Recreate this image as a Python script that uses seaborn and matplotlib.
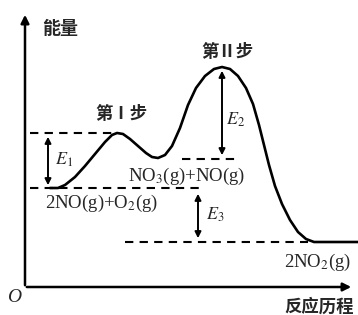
import matplotlib
matplotlib.use("Agg")
import seaborn as sns
from matplotlib import pyplot as plt

# reaction path (x = reaction progress, energy = height)
path_x = [50, 58, 65, 75, 85, 95, 105, 112, 117, 123, 130, 138, 146, 152, 158,
          165, 172, 180, 188, 196, 205, 214, 222, 230, 238, 246, 253, 259, 264,
          269, 275, 282, 290, 298, 306, 314, 358]
path_energy = [127, 127, 130, 138, 149, 161, 173, 180, 182, 181, 176, 169, 162,
               158, 157, 160, 169, 187, 210, 227, 239, 246, 248, 246, 239, 227,
               211, 190, 170, 150, 129, 111, 95, 83, 76, 73, 73]

# energy levels
e_reactant = 127
e_ts1 = 182
e_intermediate = 156
e_ts2 = 248
e_product = 73

species = ["2NO(g)+O$_2$(g)", "NO$_3$(g)+NO(g)", "2NO$_2$(g)"]
step_labels = ["第Ⅰ步", "第Ⅱ步"]
energy_labels = ["$E_1$", "$E_2$", "$E_3$"]

sns.set_style("white")
plt.rcParams["font.family"] = ["Liberation Serif", "Noto Sans CJK SC"]
plt.rcParams["mathtext.fontset"] = "stix"

fig = plt.figure(figsize=(3.58, 3.15), dpi=100)
ax = fig.add_axes([0, 0, 1, 1])
ax.set_xlim(0, 358)
ax.set_ylim(0, 315)
ax.axis("off")

sns.lineplot(x=path_x, y=path_energy, sort=False, color="black", lw=1.9, ax=ax)

# axes with arrows
axis_y = 28
ax.annotate("", xy=(25, 303), xytext=(25, axis_y - 1),
            arrowprops=dict(arrowstyle="-|>", color="black", lw=1.8, mutation_scale=12))
ax.annotate("", xy=(354, axis_y), xytext=(24, axis_y),
            arrowprops=dict(arrowstyle="-|>", color="black", lw=1.8, mutation_scale=12))

dash = dict(color="black", lw=1.5, ls=(0, (4, 3)))
ax.plot([30, 112], [e_ts1, e_ts1], **dash)
ax.plot([30, 204], [e_reactant, e_reactant], **dash)
ax.plot([182, 236], [e_intermediate, e_intermediate], **dash)
ax.plot([125, 308], [e_product, e_product], **dash)

arrow = dict(arrowstyle="<|-|>", color="black", lw=1.4, mutation_scale=9)
ax.annotate("", xy=(48, e_ts1 - 1), xytext=(48, e_reactant), arrowprops=arrow)
ax.annotate("", xy=(222, e_ts2 - 1), xytext=(222, e_intermediate + 1), arrowprops=arrow)
ax.annotate("", xy=(198, e_reactant - 3), xytext=(198, e_product + 1), arrowprops=arrow)

ax.text(55, 155, energy_labels[0], fontsize=13, ha="left", va="center")
ax.text(226, 195, energy_labels[1], fontsize=13, ha="left", va="center")
ax.text(206, 100, energy_labels[2], fontsize=13, ha="left", va="center")

ax.text(45, 112, species[0], fontsize=13.5, ha="left", va="center")
ax.text(187, 139, species[1], fontsize=13.5, ha="center", va="center")
ax.text(318, 53, species[2], fontsize=13.5, ha="center", va="center")

cjk = ["Noto Sans CJK SC", "DejaVu Sans"]
ax.text(121, 201, step_labels[0], fontsize=12.5, ha="center", va="center",
        family=cjk, fontweight="bold")
ax.text(227, 263, step_labels[1], fontsize=12.5, ha="center", va="center",
        family=cjk, fontweight="bold")
ax.text(60, 287, "能量", fontsize=13, ha="center", va="center",
        family=cjk, fontweight="bold")
ax.text(319, 8, "反应历程", fontsize=12.5, ha="center", va="center",
        family=cjk, fontweight="bold")
ax.text(14, 17, "O", fontsize=14, ha="center", va="center", style="italic")

fig.savefig("out.png", dpi=100)
